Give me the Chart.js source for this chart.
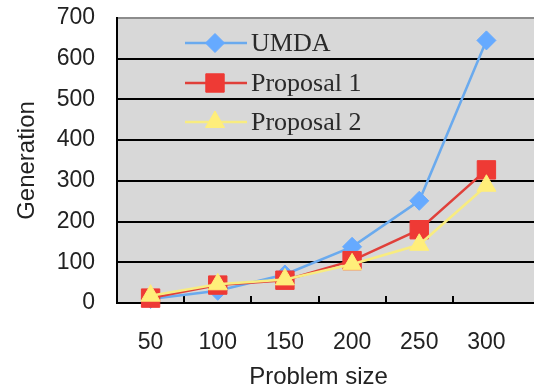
<!DOCTYPE html>
<html>
<head>
<meta charset="utf-8">
<script src="https://cdn.jsdelivr.net/npm/chart.js@4/dist/chart.umd.min.js"></script>
<style>
html,body{margin:0;padding:0;background:#fff;}
#wrap{width:534px;height:389px;}
</style>
</head>
<body>
<div id="wrap"><canvas id="c" width="534" height="389"></canvas></div>
<script>
const categories = ['50', '100', '150', '200', '250', '300'];
const umda = [10, 30, 70, 138, 251, 645];
const proposal1 = [12, 44, 56, 104, 180, 327];
const proposal2 = [18, 46, 58, 95, 143, 288];
const seriesNames = ['UMDA', 'Proposal 1', 'Proposal 2'];
const yTicks = [0, 100, 200, 300, 400, 500, 600, 700];

const bgPlugin = {
  id: 'bgPlugin',
  beforeDraw(chart) {
    const {ctx, chartArea: a} = chart;
    ctx.save();
    ctx.fillStyle = '#D8D8D8';
    ctx.fillRect(a.left, a.top, chart.width - a.left, a.bottom - a.top);
    ctx.restore();
  },
  beforeDatasetsDraw(chart) {
    const {ctx, chartArea: a} = chart;
    const ys = chart.scales.y;
    ctx.save();
    ys.ticks.forEach(t => {
      if (t.value === 0) return;
      const y = Math.round(ys.getPixelForValue(t.value));
      ctx.strokeStyle = t.value === 700 ? '#8c8c8c' : '#000';
      ctx.lineWidth = 2;
      ctx.beginPath();
      ctx.moveTo(a.right - 1, y);
      ctx.lineTo(chart.width, y);
      ctx.stroke();
    });
    const yb = Math.round(ys.getPixelForValue(0));
    ctx.strokeStyle = '#000';
    ctx.lineWidth = 2;
    ctx.beginPath();
    ctx.moveTo(a.right - 1, yb);
    ctx.lineTo(chart.width, yb);
    ctx.stroke();
    const xs = chart.scales.x;
    const n = xs.ticks.length;
    for (let i = 0; i < n - 1; i++) {
      const x = Math.round((xs.getPixelForTick(i) + xs.getPixelForTick(i + 1)) / 2);
      ctx.beginPath();
      ctx.moveTo(x, a.bottom);
      ctx.lineTo(x, a.bottom - 7);
      ctx.stroke();
    }
    ctx.restore();
  },
  afterDraw(chart) {
    const {ctx} = chart;
    const x0 = 185, x1 = 247, xm = 215, tx = 251;
    const rows = [43, 83, 122];
    ctx.save();
    chart.data.datasets.forEach((ds, i) => {
      const y = rows[i];
      ctx.strokeStyle = ds.borderColor;
      ctx.lineWidth = ds.borderWidth;
      ctx.beginPath();
      ctx.moveTo(x0, y);
      ctx.lineTo(x1, y);
      ctx.stroke();
      ctx.fillStyle = ds.pointBackgroundColor;
      ctx.strokeStyle = ds.pointBorderColor;
      ctx.lineWidth = 1;
      Chart.helpers.drawPoint(ctx, {pointStyle: ds.pointStyle, radius: ds.pointRadius, rotation: 0, borderWidth: 1}, xm, y);
      ctx.fillStyle = '#2a2a2a';
      ctx.font = '26px "Liberation Serif", "DejaVu Serif", serif';
      ctx.textBaseline = 'middle';
      ctx.textAlign = 'left';
      ctx.fillText(ds.label, tx, y + 1);
    });
    ctx.restore();
  }
};

const sansFont = '"Liberation Sans", Arial, sans-serif';

new Chart(document.getElementById('c'), {
  type: 'line',
  data: {
    labels: categories,
    datasets: [
      {
        label: seriesNames[0], data: umda,
        borderColor: '#6AAAEE', backgroundColor: '#66AAFF',
        pointBackgroundColor: '#66AAFF', pointBorderColor: '#66AAFF',
        borderWidth: 2.5, pointStyle: 'rectRot', pointRadius: 9.5, pointBorderWidth: 1,
        tension: 0, order: 3
      },
      {
        label: seriesNames[1], data: proposal1,
        borderColor: '#E0403A', backgroundColor: '#EE3A35',
        pointBackgroundColor: '#EE3A35', pointBorderColor: '#EE3A35',
        borderWidth: 2.5, pointStyle: 'rect', pointRadius: 13, pointBorderWidth: 1,
        tension: 0, order: 2
      },
      {
        label: seriesNames[2], data: proposal2,
        borderColor: '#F8EC80', backgroundColor: '#FFEE7A',
        pointBackgroundColor: '#FFEE7A', pointBorderColor: '#FFEE7A',
        borderWidth: 2.5, pointStyle: 'triangle', pointRadius: 11, pointBorderWidth: 1,
        tension: 0, order: 1
      }
    ]
  },
  options: {
    responsive: false,
    animation: false,
    clip: false,
    layout: {padding: {left: 0, right: 7, top: 18, bottom: 0}},
    plugins: {
      legend: {display: false},
      tooltip: {enabled: false}
    },
    scales: {
      x: {
        type: 'category',
        offset: true,
        grid: {display: false, drawOnChartArea: false, drawTicks: false},
        border: {display: true, color: '#000', width: 2},
        ticks: {color: '#222', font: {family: sansFont, size: 23}, padding: 26, maxRotation: 0},
        title: {display: true, text: 'Problem size', color: '#222',
                font: {family: sansFont, size: 24, lineHeight: 1.0}, padding: {top: 0, bottom: 0}},
        afterFit(s) { s.height = 86; }
      },
      y: {
        min: 0, max: 700,
        afterBuildTicks(s) { s.ticks = yTicks.map(v => ({value: v})); },
        grid: {
          color: ctx => ctx.tick && ctx.tick.value === 700 ? '#8c8c8c' : (ctx.tick && ctx.tick.value === 0 ? 'rgba(0,0,0,0)' : '#000'),
          lineWidth: 2, drawTicks: true, tickLength: 22, tickColor: 'rgba(0,0,0,0)'
        },
        border: {display: true, color: '#000', width: 2},
        ticks: {color: '#222', font: {family: sansFont, size: 23}, padding: 0},
        title: {display: true, text: 'Generation', color: '#222',
                font: {family: sansFont, size: 24, lineHeight: 1.2}, padding: {top: 13, bottom: 0}},
        afterFit(s) { s.width = 117; }
      }
    }
  },
  plugins: [bgPlugin]
});
</script>
</body>
</html>
